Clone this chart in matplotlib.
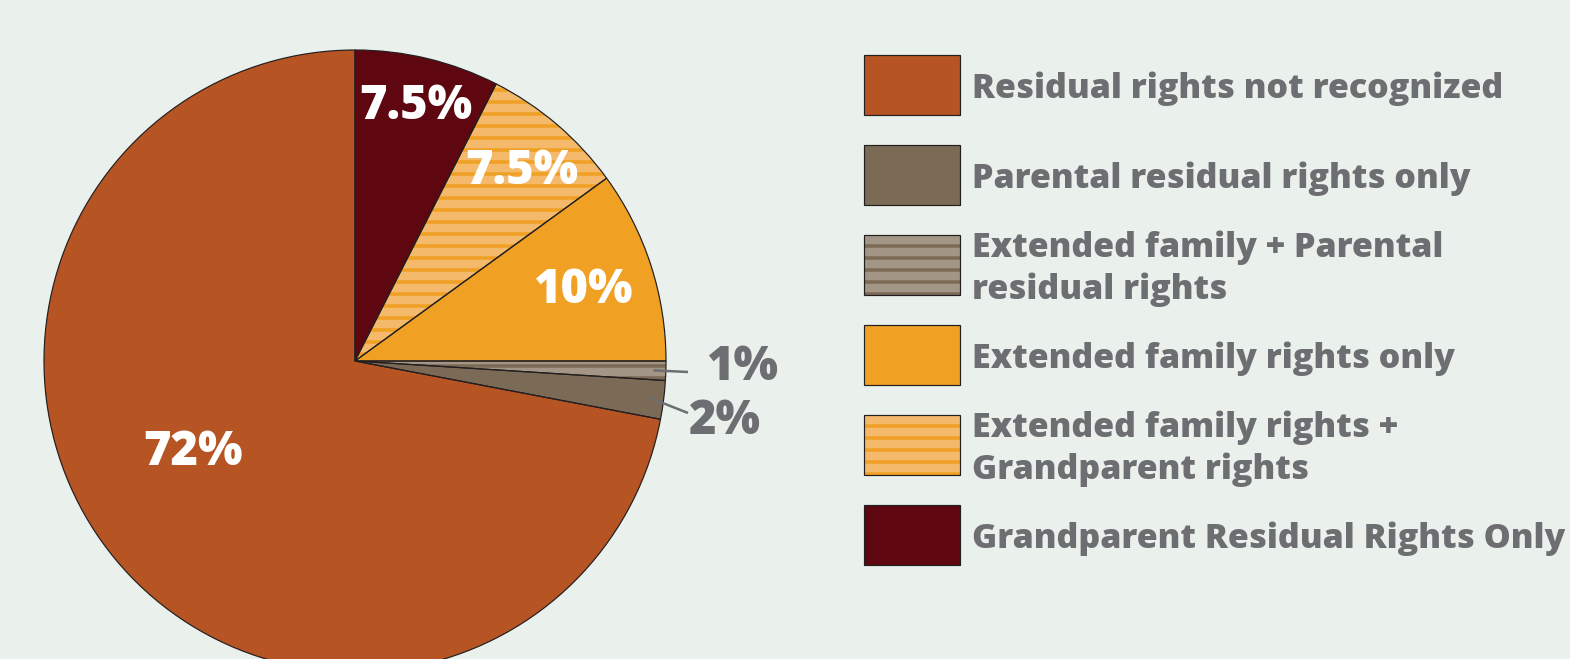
import numpy as np
import matplotlib
matplotlib.use("Agg")
import matplotlib.pyplot as plt
from matplotlib.patches import Rectangle

# pie slices, clockwise from 12 o'clock
slice_names = ["Grandparent Residual Rights Only",
               "Extended family rights +\nGrandparent rights",
               "Extended family rights only",
               "Extended family + Parental\nresidual rights",
               "Parental residual rights only",
               "Residual rights not recognized"]
slice_values = [7.5, 7.5, 10, 1, 2, 72]
slice_labels = ["7.5%", "7.5%", "10%", "1%", "2%", "72%"]

# legend order (top to bottom)
legend_order = [5, 4, 3, 2, 1, 0]

face_colors = ["#5E0710", "#F4B96A", "#F0A023", "#A39686", "#7B6A55", "#B75424"]
stripe_colors = [None, "#F0A023", None, "#7B6A55", None, None]

BG = "#EAF1EC"
EDGE = "#231F20"
GRAY = "#6D6E71"
W, H = 1570, 659

plt.rcParams['font.family'] = ['Open Sans', 'DejaVu Sans']
plt.rcParams['hatch.linewidth'] = 3.5

fig = plt.figure(figsize=(W / 72, H / 72), dpi=72, facecolor=BG)
ax = fig.add_axes([0, 0, 1, 1])
ax.set_facecolor(BG)

cx, cy, R = 355, H - 361, 311

# fill + stripes
wedges, _ = ax.pie(slice_values, colors=face_colors, startangle=90, counterclock=False,
                   center=(cx, cy), radius=R, wedgeprops=dict(linewidth=0))
for w, sc in zip(wedges, stripe_colors):
    if sc is not None:
        w.set_edgecolor(sc)
        w.set_linewidth(0)
        w.set_hatch('-')
# outlines
ax.pie(slice_values, colors=face_colors, startangle=90, counterclock=False,
       center=(cx, cy), radius=R,
       wedgeprops=dict(fill=False, edgecolor=EDGE, linewidth=1.2))

ax.set_xlim(0, W)
ax.set_ylim(0, H)
ax.set_aspect('equal')
ax.axis('off')

# labels inside the slices
inside = {0: (0.84, 0), 1: (0.81, -1), 2: (0.765, -1), 5: (0.6, -10)}
for i, w in enumerate(wedges):
    mid = (w.theta1 + w.theta2) / 2
    if i in inside:
        frac, nudge = inside[i]
        a = np.deg2rad(mid + nudge)
        ax.text(cx + frac * R * np.cos(a), cy + frac * R * np.sin(a), slice_labels[i],
                color="white", fontsize=47, fontweight='heavy', ha='center', va='center')

# small slices with leader lines
outside = {3: (688, H - 372, 706, H - 368), 4: (688, H - 413, 689, H - 422)}
for i, (lx, ly, tx, ty) in outside.items():
    w = wedges[i]
    a = np.deg2rad((w.theta1 + w.theta2) / 2)
    r0 = 0.96 * R
    ax.plot([cx + r0 * np.cos(a), lx], [cy + r0 * np.sin(a), ly], color=GRAY, lw=2.5,
            solid_capstyle='butt')
    ax.text(tx, ty, slice_labels[i], color=GRAY, fontsize=47, fontweight='heavy',
            ha='left', va='center')

# legend
box_x, box_w, box_h = 864, 96, 60
for k, i in enumerate(legend_order):
    top = 55 + 90 * k
    y0 = H - top - box_h
    if stripe_colors[i] is not None:
        ax.add_patch(Rectangle((box_x, y0), box_w, box_h, facecolor=face_colors[i],
                               edgecolor=stripe_colors[i], linewidth=0, hatch='-'))
        ax.add_patch(Rectangle((box_x, y0), box_w, box_h, fill=False,
                               edgecolor=EDGE, linewidth=1.2))
    else:
        ax.add_patch(Rectangle((box_x, y0), box_w, box_h, facecolor=face_colors[i],
                               edgecolor=EDGE, linewidth=1.2))
    lines = slice_names[i].split("\n")
    center = top + box_h / 2
    n = len(lines)
    for j, line in enumerate(lines):
        base = center + 13 + (j - (n - 1) / 2) * 42
        ax.text(972, H - base, line, color=GRAY, fontsize=34, fontweight='heavy',
                ha='left', va='baseline')

fig.savefig("out.png", dpi=72, facecolor=BG)
